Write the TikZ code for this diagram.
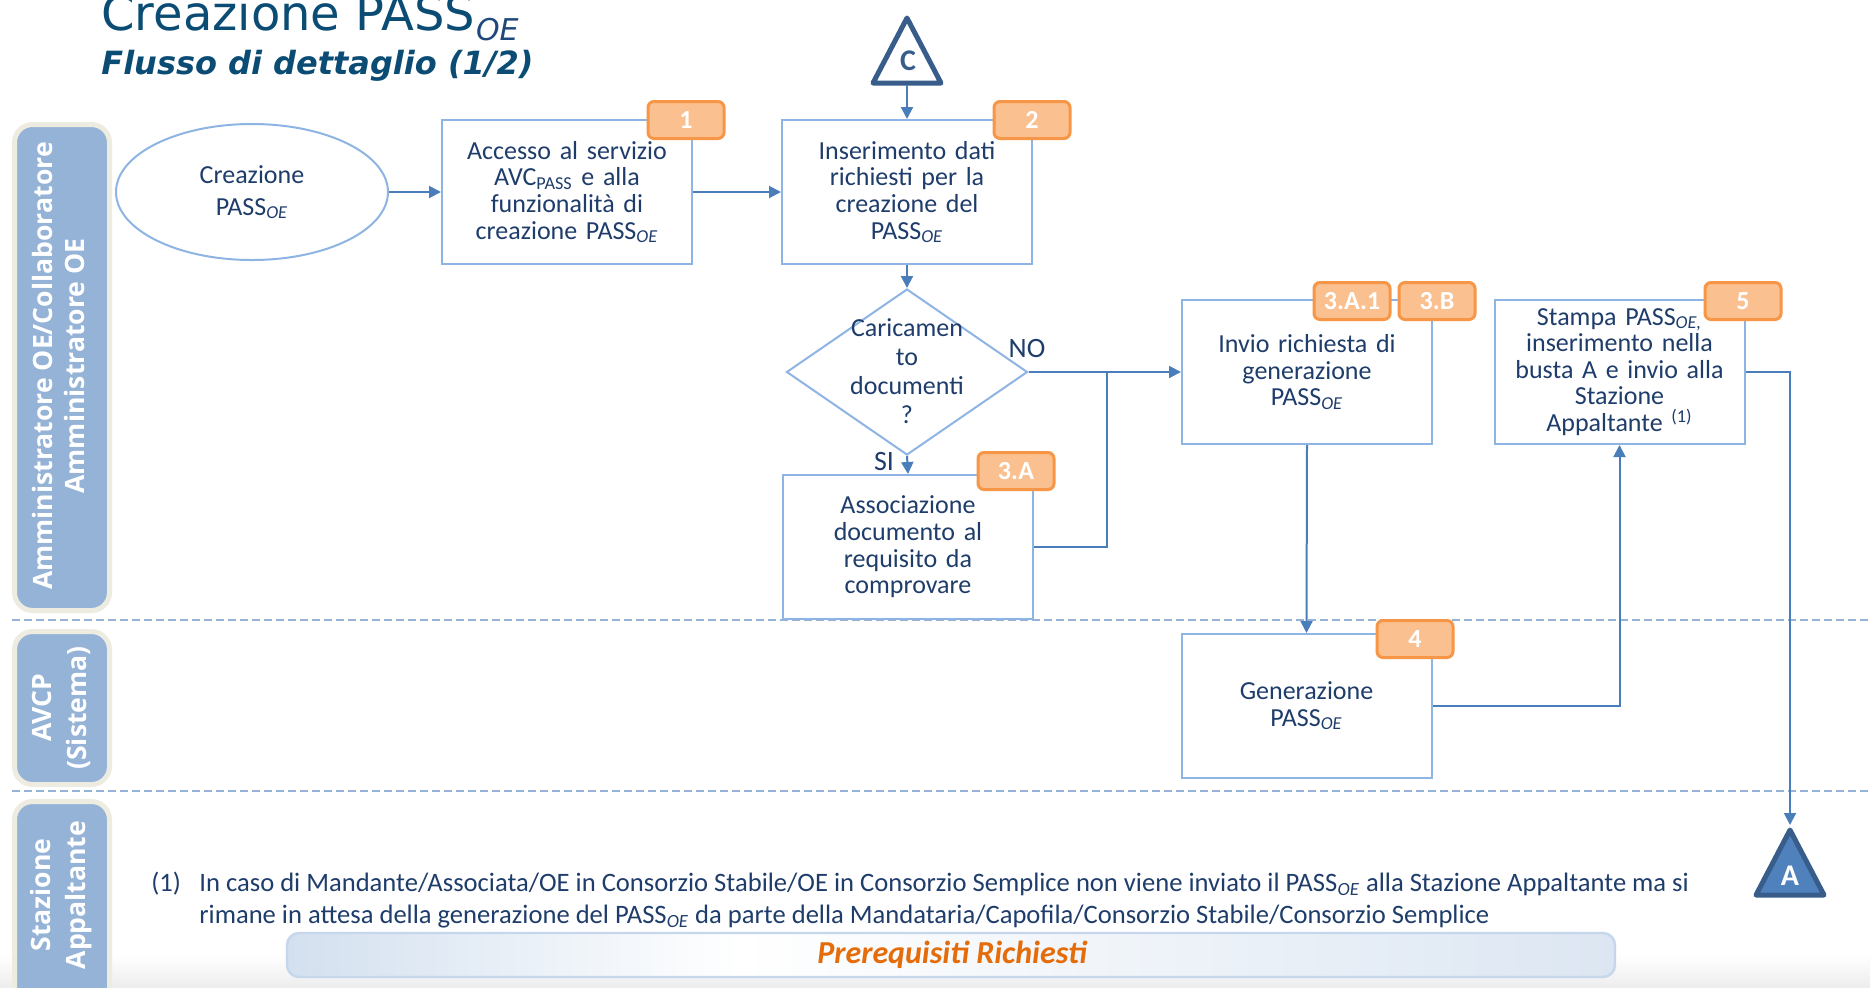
\documentclass[tikz,border=0pt]{standalone}
\usepackage{fontspec}
\setmainfont{Carlito}
\newfontfamily\titlefont{DejaVu Sans}
\newfontfamily\lanefont{Open Sans}
\usetikzlibrary{arrows.meta,shapes.geometric,calc}
\definecolor{navy}{HTML}{1F3D6B}
\definecolor{titlec}{HTML}{0B4C74}
\definecolor{titlesub}{HTML}{1F497D}
\definecolor{lanef}{HTML}{95B3D7}
\definecolor{laneb}{HTML}{EEECE1}
\definecolor{boxc}{HTML}{8EB4E3}
\definecolor{connc}{HTML}{4A7EBB}
\definecolor{badgef}{HTML}{FAC090}
\definecolor{badgeb}{HTML}{F79646}
\definecolor{tribd}{HTML}{385D8A}
\definecolor{trif}{HTML}{4F81BD}
\definecolor{orangec}{HTML}{E46C0A}
\definecolor{barL}{HTML}{D3E0EF}
\definecolor{barR}{HTML}{DCE6F2}
\definecolor{barB}{HTML}{C6D7EC}
\definecolor{dashc}{HTML}{95B3D7}
\tikzset{
  procbox/.style={draw=boxc, line width=1pt, fill=white, minimum width=125pt, minimum height=72pt,
    align=center, text width=118pt, inner sep=0pt, text=navy, font=\fontsize{13}{13.3}\selectfont},
  badge/.style={draw=badgeb, fill=badgef, line width=1.5pt, rounded corners=3pt, minimum width=38pt,
    minimum height=18.5pt, inner sep=0pt, text=white, font=\bfseries\fontsize{13}{13}\selectfont},
  conn/.style={draw=connc, line width=1pt, -{Triangle[length=6pt,width=6pt]}},
  plainconn/.style={draw=connc, line width=1pt},
  lanebox/.style={draw=laneb, fill=lanef, line width=2.5pt, rounded corners=9pt, inner sep=0pt},
  lanetext/.style={rotate=90, align=center, text=white, inner sep=0pt},
  lanesep/.style={draw=dashc, line width=1.2pt, dash pattern=on 4pt off 2pt},
  lbl/.style={text=navy, inner sep=0pt, font=\fontsize{14}{14}\selectfont},
}
\begin{document}
\begin{tikzpicture}[x=0.5pt,y=-0.5pt]
\clip (0,0) rectangle (1870,987);
\fill[white] (0,0) rectangle (1870,987);
\shade[top color=white, bottom color=black!7] (0,955) rectangle (1870,987);

% title
\node[anchor=base west, inner sep=0pt, text=titlec, font=\titlefont\fontsize{24}{24}\selectfont] (title) at (101,30) {Creazione PASS};
\node[anchor=base west, inner sep=0pt, text=titlesub, font=\titlefont\itshape\fontsize{15}{15}\selectfont] (titlesubs) at (title.base east) [yshift=-5pt] {OE};
\node[anchor=base west, inner sep=0pt, text=titlec, font=\titlefont\bfseries\itshape\fontsize{16}{16}\selectfont] (subtitle) at (101,74) {Flusso di dettaglio (1/2)};

% lanes
\node[lanebox, minimum width=47.5pt, minimum height=243pt] (lane1) at (62,367.5) {};
\node[lanebox, minimum width=47.5pt, minimum height=76.5pt] (lane2) at (62,708) {};
\node[lanebox, minimum width=47.5pt, minimum height=104pt] (lane3) at (62,905.5) {};
\node[lanetext, font=\lanefont\bfseries\fontsize{13.3}{15.8}\selectfont] (lt1) at (58.5,366) {Amministratore OE/Collaboratore\\Amministratore OE};
\node[lanetext, font=\lanefont\bfseries\fontsize{13.3}{17.5}\selectfont] (lt2) at (61,708) {AVCP\\(Sistema)};
\node[lanetext, font=\lanefont\bfseries\fontsize{13.3}{17.5}\selectfont] (lt3) at (61,895) {Stazione\\Appaltante};

\coordinate (sep1a) at (12,620); \coordinate (sep1b) at (1870,620);
\coordinate (sep2a) at (12,791); \coordinate (sep2b) at (1870,791);
\draw[lanesep] (sep1a) -- (sep1b);
\draw[lanesep] (sep2a) -- (sep2b);

% start ellipse
\node[ellipse, draw=boxc, line width=1pt, fill=white, minimum width=136pt, minimum height=68pt, inner sep=0pt,
  align=center, text=navy, font=\fontsize{13}{16}\selectfont] (ell) at (252,192) {Creazione\\PASS\textsubscript{\textit{OE}}};

% process boxes
\node[procbox] (b1) at (567,192) {Accesso al servizio AVC\textsubscript{PASS} e alla funzionalità di creazione PASS\textsubscript{\textit{OE}}};
\node[procbox] (b2) at (907,192) {Inserimento dati\\richiesti per la\\creazione del\\PASS\textsubscript{\textit{OE}}};
\node[procbox] (b3a) at (908,547) {Associazione\\documento al\\requisito da\\comprovare};
\node[procbox] (b3) at (1307,372) {Invio richiesta di\\generazione\\PASS\textsubscript{\textit{OE}}};
\node[procbox] (b5) at (1619.5,372) {Stampa PASS\textsubscript{\textit{OE,}}\\inserimento nella\\busta A e invio alla\\Stazione\\Appaltante \textsuperscript{(1)}};
\node[procbox] (b4) at (1306.5,706) {Generazione\\PASS\textsubscript{\textit{OE}}};

% decision
\node[diamond, draw=boxc, line width=1pt, fill=white, minimum width=120.5pt, minimum height=83pt, inner sep=0pt] (dia) at (907,372) {};
\node[align=center, text=navy, inner sep=0pt, font=\fontsize{13}{14.5}\selectfont] (diat) at (907,371) {Caricamen\\to\\documenti\\?};

% badges
\node[badge] (bd1) at (686,120) {1};
\node[badge] (bd2) at (1032,120) {2};
\node[badge] (bd3a) at (1016,471) {3.A};
\node[badge] (bd3a1) at (1352,301) {3.A.1};
\node[badge] (bd3b) at (1437,301) {3.B};
\node[badge] (bd5) at (1743,301) {5};
\node[badge] (bd4) at (1415,639) {4};

% connector triangles
\draw[draw=tribd, fill=white, line width=2.5pt, line join=round] (907,18) -- (941,83) -- (873,83) -- cycle;
\node[text=tribd, inner sep=0pt, font=\bfseries\fontsize{15}{15}\selectfont] (ctext) at (908,61) {C};
\coordinate (cbase) at (907,85);
\draw[draw=tribd, fill=trif, line width=2.5pt, line join=round] (1790,830) -- (1824,895) -- (1756,895) -- cycle;
\node[text=white, inner sep=0pt, font=\bfseries\fontsize{15}{15}\selectfont] (atext) at (1790,876) {A};
\coordinate (aapex) at (1790,825);

% connectors
\draw[conn] (ell.east) -- (b1.west);
\draw[conn] (b1.east) -- (b2.west);
\draw[conn] (cbase) -- (b2.north);
\draw[conn] (b2.south) -- (dia.north);
\draw[conn] (dia.east) -- (b3.west);
\draw[conn] (dia.south) -- (b3a.north);
\coordinate (jn) at (1107,372);
\draw[plainconn] (b3a.east) -| (jn);
\draw[conn] (b3.south) -- (b4.north);
\draw[conn] (b4.east) -| (b5.south);
\draw[conn] (b5.east) -| (aapex);
\node[lbl] (nolbl) at (1027,348) {NO};
\node[lbl] (silbl) at (884,461) {SI};

% footnote
\node[anchor=base west, inner sep=0pt, text=navy, font=\fontsize{13.3}{13.3}\selectfont] (fnum) at (151,891) {(1)};
\node[anchor=base west, inner sep=0pt, text=navy, font=\fontsize{13.3}{13.3}\selectfont] (fn1) at (199,891) {In caso di Mandante/Associata/OE in Consorzio Stabile/OE in Consorzio Semplice non viene inviato il PASS\textsubscript{\textit{OE}} alla Stazione Appaltante ma si};
\node[anchor=base west, inner sep=0pt, text=navy, font=\fontsize{13.3}{13.3}\selectfont] (fn2) at (199,923) {rimane in attesa della generazione del PASS\textsubscript{\textit{OE}} da parte della Mandataria/Capofila/Consorzio Stabile/Consorzio Semplice};

% prerequisiti bar
\begin{scope}
\clip[rounded corners=6pt] (287,933) rectangle (1615,977);
\shade[left color=barL, right color=white] (287,933) rectangle (740,977);
\shade[left color=white, right color=barR] (739,933) rectangle (1615,977);
\end{scope}
\draw[draw=barB, line width=1.2pt, rounded corners=6pt] (287,933) rectangle (1615,977);
\node[text=orangec, inner sep=0pt, font=\bfseries\itshape\fontsize{16}{16}\selectfont] (prereq) at (952,955) {Prerequisiti Richiesti};
\end{tikzpicture}
\end{document}
